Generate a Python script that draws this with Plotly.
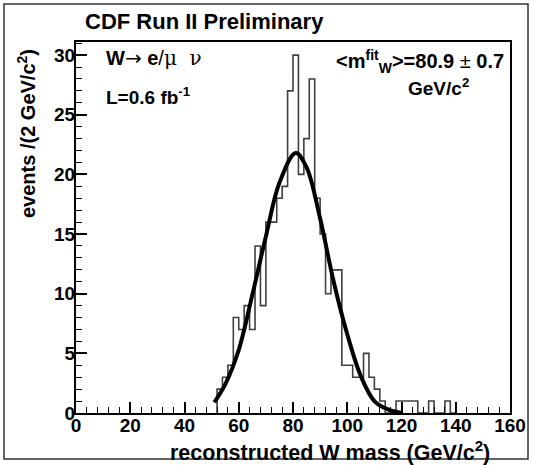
import plotly.graph_objects as go

# ---- data ----
bin_left_edges = [52, 54, 56, 58, 60, 62, 64, 66, 68, 70, 72, 74, 76, 78, 80, 82, 84, 86, 88, 90,
                  92, 94, 96, 98, 100, 102, 104, 106, 108, 110, 112, 114, 116, 118, 120, 122, 124,
                  126, 128, 130, 132, 134, 136, 138]
bin_counts = [2, 3, 4, 8, 7, 9, 7, 14, 9, 16, 16, 18, 19, 27, 30, 20, 23, 28, 18, 15,
              10, 12, 12, 4, 4, 3, 3, 5, 3, 2, 1, 0, 0, 1, 1, 1, 1,
              0, 0, 1, 0, 0, 1, 0]
bin_width = 2

fit_mass = [51, 55, 60, 65, 70, 75, 81, 85, 90, 95, 100, 105, 110, 115, 120]
fit_events = [0.9, 2.4, 5.3, 9.9, 14.8, 19.3, 21.8, 20.6, 16.3, 11.0, 6.6, 3.1, 1.0, 0.3, 0.0]

x_ticks = [0, 20, 40, 60, 80, 100, 120, 140, 160]
y_ticks = [0, 5, 10, 15, 20, 25, 30]

# step outline from the histogram bins
step_x = [bin_left_edges[0]] + bin_left_edges + [bin_left_edges[-1] + bin_width]
step_y = [0] + bin_counts + [bin_counts[-1]]

FONT = "Liberation Sans"
W, H = 533, 465
L, R, T, B = 76, 510, 42, 413
pw, ph = R - L, B - T


def px(x):
    return (x - L) / pw


def py(y):
    return (B - y) / ph


fig = go.Figure()
fig.add_trace(go.Scatter(x=step_x, y=step_y, mode="lines", line=dict(shape="hv", color="#404040", width=1.6),
                         hoverinfo="skip", showlegend=False))
fig.add_trace(go.Scatter(x=fit_mass, y=fit_events, mode="lines",
                         line=dict(shape="spline", smoothing=1.0, color="black", width=4),
                         hoverinfo="skip", showlegend=False))

fig.update_layout(
    width=W, height=H,
    margin=dict(l=L, r=W - R, t=T, b=H - B, pad=0),
    paper_bgcolor="white", plot_bgcolor="white",
    font=dict(family=FONT, size=19, color="black"),
    xaxis=dict(range=[0, 160], tickvals=x_ticks, ticks="inside", ticklen=11, tickwidth=1.5, tickcolor="black",
               minor=dict(ticks="inside", dtick=4, ticklen=6, tickwidth=1.2, tickcolor="black"),
               showgrid=False, zeroline=False, showline=True, linecolor="black", linewidth=2, mirror=True,
               automargin=False, ticklabelstandoff=-6,
               tickfont=dict(family=FONT, size=19, weight="bold")),
    yaxis=dict(range=[0, 31.1], tickvals=y_ticks, ticks="inside", ticklen=11, tickwidth=1.5, tickcolor="black",
               minor=dict(ticks="inside", dtick=1, ticklen=6, tickwidth=1.2, tickcolor="black"),
               showgrid=False, zeroline=False, showline=True, linecolor="black", linewidth=2, mirror=True,
               automargin=False, ticklabelstandoff=-5,
               tickfont=dict(family=FONT, size=19, weight="bold")),
)

anns = [
    dict(text="<b>CDF Run II Preliminary</b>", x=px(83), y=py(22), xanchor="left", yanchor="middle", size=22),
    dict(text="<b>W</b><span style=\"font-family:DejaVu Sans\">\u2192</span> <b>e</b>/"
              "<span style=\"font-family:DejaVu Serif\">\u03bc  \u03bd</span>",
         x=px(104), y=py(58), xanchor="left", yanchor="middle", size=20),
    dict(text="<b>L=0.6 fb<sup>-1</sup></b>", x=px(104), y=py(96), xanchor="left", yanchor="middle", size=19),
    dict(text="<b><m<sup>fit</sup><sub>W</sub>>=80.9</b> \u00b1 <b>0.7</b>", x=px(506), y=py(61),
         xanchor="right", yanchor="middle", size=20),
    dict(text="<b>GeV/c<sup>2</sup></b>", x=px(471), y=py(87), xanchor="right", yanchor="middle", size=19),
    dict(text="<b>reconstructed W mass (GeV/c<sup>2</sup>)</b>", x=px(330), y=py(451), xanchor="center",
         yanchor="middle", size=21.5),
]
for a in anns:
    fig.add_annotation(text=a["text"], x=a["x"], y=a["y"], xref="paper", yref="paper",
                       xanchor=a["xanchor"], yanchor=a["yanchor"], showarrow=False,
                       font=dict(family=FONT, size=a["size"], color="black"))

fig.add_annotation(text="<b>events /(2 GeV/c<sup>2</sup>)</b>", x=px(26), y=py(134), xref="paper", yref="paper",
                   xanchor="center", yanchor="middle", textangle=-90, showarrow=False,
                   font=dict(family=FONT, size=20, color="black"))

# outer canvas border
fig.add_shape(type="rect", xref="paper", yref="paper", x0=px(4), x1=px(528), y0=py(459), y1=py(4),
              line=dict(color="#333333", width=1.5), layer="above")

fig.write_html("out.html", config={"displayModeBar": False},
               post_script="document.body.style.margin='0px';document.body.style.overflow='hidden';")
